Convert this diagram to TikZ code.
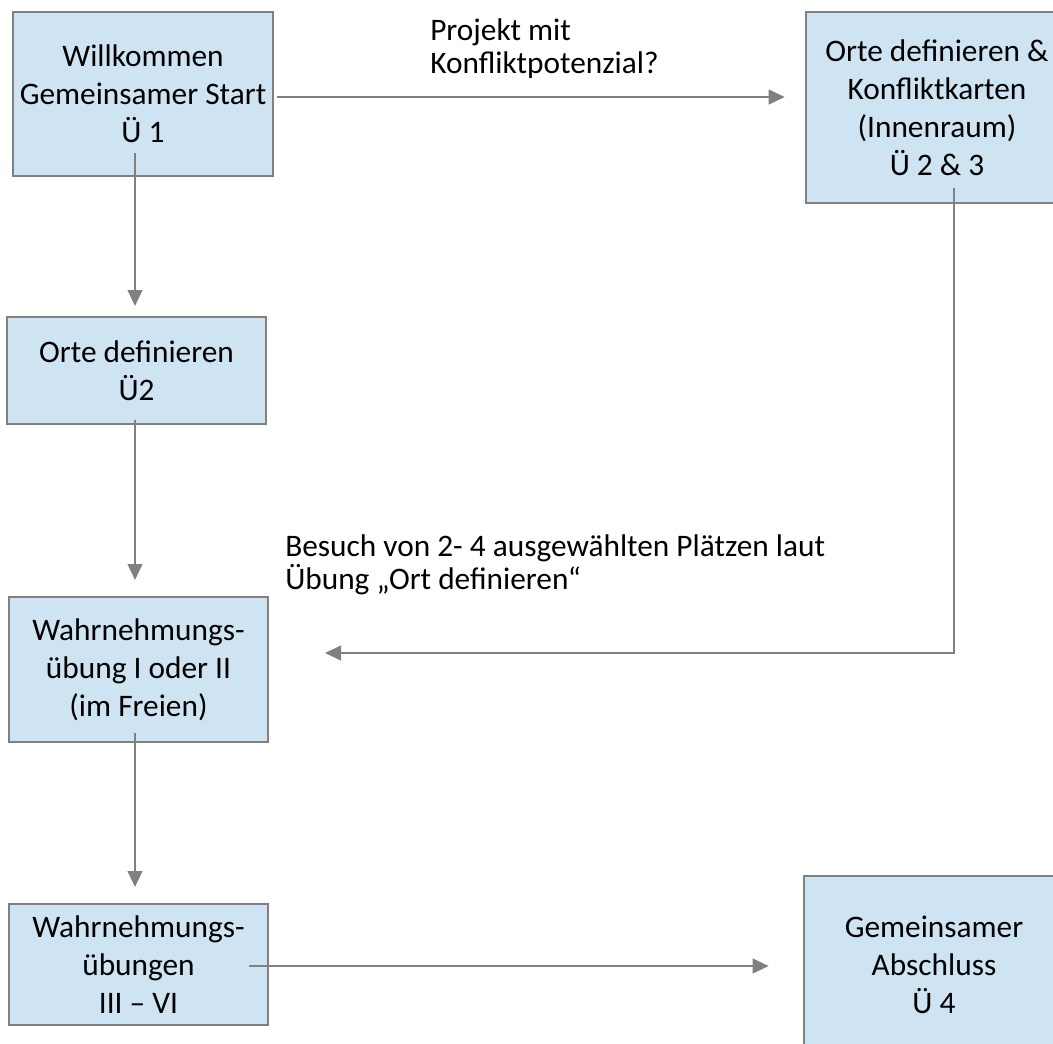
\documentclass[tikz,border=0pt]{standalone}
\usepackage{fontspec}
\setmainfont{Carlito}
\usetikzlibrary{arrows.meta,backgrounds}
\definecolor{boxfill}{RGB}{207,228,243}
\definecolor{boxline}{RGB}{128,128,128}
\definecolor{arrowgray}{RGB}{128,128,128}
\begin{document}
\begin{tikzpicture}[x=0.75pt,y=-0.75pt,
  boxlook/.style={draw=boxline,line width=1.5pt,fill=boxfill},
  stepbox/.style={boxlook,inner sep=0pt,align=center,
    font=\fontsize{23.5}{28.5}\selectfont},
  edgebox/.style={inner sep=0pt,align=center,font=\fontsize{23.5}{28.5}\selectfont},
  conn/.style={draw=arrowgray,line width=1.5pt,-{Triangle[length=12pt,width=11pt]}},
  lbl/.style={inner sep=0pt,align=left,anchor=north west,font=\fontsize{23.5}{25}\selectfont}
]
\useasboundingbox (0,0) rectangle (1053,1043);
\node[stepbox,minimum width=260*0.75pt,minimum height=164*0.75pt] (b1) at (143,94)
  {Willkommen\\Gemeinsamer Start\\Ü 1};
\node[edgebox,minimum width=262*0.75pt,minimum height=191*0.75pt] (b2) at (937,107.5)
  {Orte definieren \&\\Konfliktkarten\\(Innenraum)\\Ü 2 \& 3};
\node[stepbox,minimum width=259*0.75pt,minimum height=107*0.75pt] (b3) at (136.5,370.5)
  {Orte definieren\\Ü2};
\node[stepbox,minimum width=259*0.75pt,minimum height=145*0.75pt] (b4) at (138.5,669.5)
  {Wahrnehmungs-\\übung I oder II\\(im Freien)};
\node[stepbox,minimum width=259*0.75pt,minimum height=121*0.75pt] (b5) at (138.5,964.5)
  {Wahrnehmungs-\\übungen\\III – VI};
\node[edgebox,minimum width=260*0.75pt,minimum height=178*0.75pt] (b6) at (934,965)
  {Gemeinsamer\\Abschluss\\Ü 4};
\begin{scope}[on background layer]
  % boxes cut off by the right / bottom edge of the picture
  \path[boxlook] (b2.north west) rectangle (1100,0 |- b2.south);
  \path[boxlook] (b6.north west) rectangle (1100,1100);
\end{scope}
\node[lbl] (l1) at (430,18.5) {Projekt mit\\Konfliktpotenzial?};
\node[lbl] (l2) at (285,534) {Besuch von 2- 4 ausgewählten Plätzen laut\\Übung „Ort definieren“};
% connector start/end points
\coordinate (s2) at (135,153);
\coordinate (s3) at (135,420);
\coordinate (s4) at (135,733);
\coordinate (s5) at (249,966);
\coordinate (s6) at (954,188);
\coordinate (e6) at (325,653);
\draw[conn,shorten <=3*0.75pt,shorten >=21*0.75pt] (b1.east |- 0,97) -- (b2.west |- 0,97);
\draw[conn,shorten >=10*0.75pt] (s2) -- (s2 |- b3.north);
\draw[conn,shorten >=16*0.75pt] (s3) -- (s3 |- b4.north);
\draw[conn,shorten >=16*0.75pt] (s4) -- (s4 |- b5.north);
\draw[conn,shorten >=35*0.75pt] (s5) -- (s5 -| b6.west);
\draw[conn] (s6) |- (e6);
\end{tikzpicture}
\end{document}
